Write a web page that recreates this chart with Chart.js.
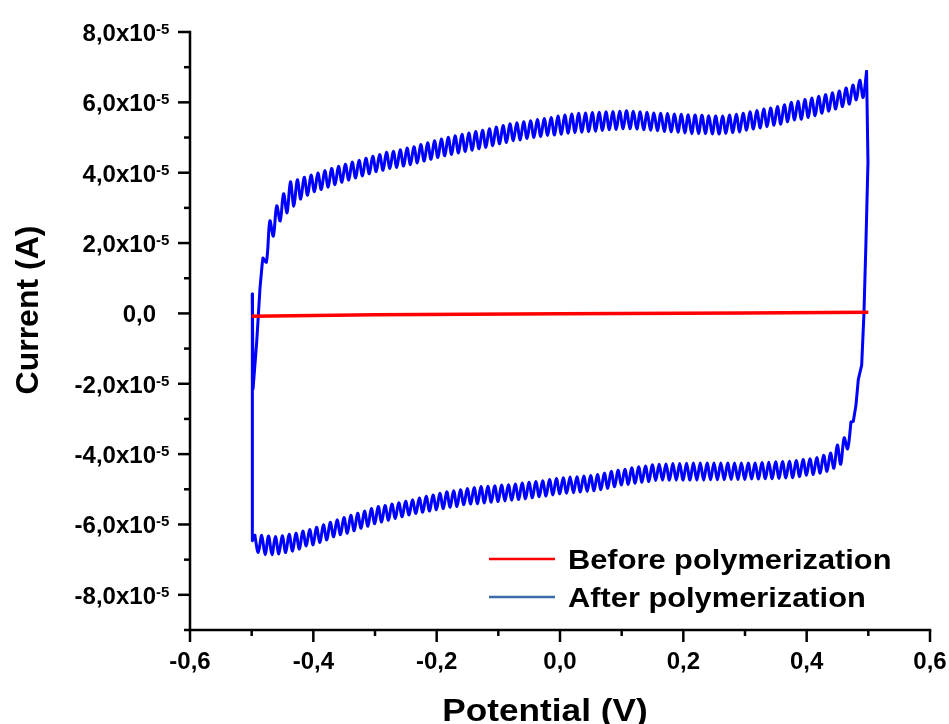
<!DOCTYPE html>
<html>
<head>
<meta charset="utf-8">
<script src="https://cdn.jsdelivr.net/npm/chart.js@4.4.1/dist/chart.umd.min.js"></script>
<style>
  html, body { margin: 0; padding: 0; background: #fff; }
  canvas { display: block; }
</style>
</head>
<body>
<canvas id="cvChart" width="949" height="724"></canvas>
<script>
// potentials in V, currents in units of 1e-5 A

// before polymerization (flat red trace)
const beforePotential = [-0.5, -0.3, 0.0, 0.3, 0.5];
const beforeCurrent = [-0.08, -0.04, -0.01, 0.01, 0.03];

// after polymerization: start of forward scan at -0.5 V
const afterStartPotential = [-0.4989, -0.4978, -0.4918, -0.4865, -0.4827];
const afterStartCurrent = [0.55, -2.15, -0.8, 0.72, 1.45];

// forward scan (anodic, upper branch), sampled every half ripple
const afterFwdStart = -0.4816;
const afterFwdStep = 0.005561;
const afterFwdCurrent = [
  1.57, 1.46, 2.63, 2.2, 3.06, 2.63, 3.40, 2.86, 3.74, 3.05,
  3.80, 3.25, 3.87, 3.36, 3.93, 3.46, 3.99, 3.52, 4.06, 3.59,
  4.12, 3.66, 4.18, 3.73, 4.24, 3.79, 4.30, 3.85, 4.35, 3.91,
  4.41, 3.97, 4.47, 4.03, 4.52, 4.07, 4.58, 4.12, 4.61, 4.15,
  4.65, 4.19, 4.70, 4.23, 4.74, 4.28, 4.80, 4.33, 4.85, 4.38,
  4.91, 4.43, 4.96, 4.48, 5.01, 4.52, 5.05, 4.56, 5.09, 4.60,
  5.13, 4.64, 5.17, 4.68, 5.21, 4.72, 5.25, 4.77, 5.30, 4.82,
  5.34, 4.86, 5.39, 4.91, 5.42, 4.93, 5.45, 4.97, 5.48, 5.00,
  5.51, 5.03, 5.54, 5.06, 5.57, 5.07, 5.61, 5.09, 5.64, 5.12,
  5.67, 5.14, 5.69, 5.15, 5.70, 5.17, 5.71, 5.18, 5.72, 5.20,
  5.73, 5.22, 5.74, 5.23, 5.75, 5.25, 5.76, 5.25, 5.75, 5.24,
  5.73, 5.22, 5.72, 5.21, 5.70, 5.19, 5.69, 5.17, 5.68, 5.16,
  5.67, 5.15, 5.66, 5.13, 5.65, 5.11, 5.64, 5.11, 5.63, 5.11,
  5.62, 5.10, 5.61, 5.10, 5.61, 5.12, 5.64, 5.14, 5.66, 5.16,
  5.69, 5.21, 5.73, 5.24, 5.77, 5.27, 5.81, 5.31, 5.84, 5.35,
  5.88, 5.38, 5.93, 5.45, 6.00, 5.50, 6.03, 5.52, 6.08, 5.57,
  6.12, 5.62, 6.17, 5.69, 6.22, 5.75, 6.27, 5.81, 6.32, 5.88,
  6.41, 5.95, 6.49, 6.07, 6.63, 6.14, 6.88
];

// switching at +0.5 V
const afterTurnPotential = [0.4994, 0.4962, 0.4929, 0.4892, 0.4837, 0.4800, 0.4756];
const afterTurnCurrent = [4.3, 2.06, 0.0, -1.47, -1.88, -2.6, -3.07];

// reverse scan (cathodic, lower branch), going back towards -0.5 V
const afterRevStart = 0.4719;
const afterRevStep = -0.005556;
const afterRevCurrent = [
  -3.09, -3.85, -3.54, -4.29, -3.74, -4.40, -3.97, -4.49, -4.03, -4.54,
  -4.10, -4.58, -4.13, -4.60, -4.15, -4.64, -4.18, -4.67, -4.20, -4.68,
  -4.21, -4.69, -4.22, -4.70, -4.23, -4.70, -4.24, -4.71, -4.25, -4.71,
  -4.25, -4.72, -4.25, -4.72, -4.25, -4.72, -4.25, -4.73, -4.25, -4.73,
  -4.25, -4.73, -4.25, -4.74, -4.25, -4.74, -4.25, -4.74, -4.26, -4.74,
  -4.27, -4.74, -4.27, -4.74, -4.28, -4.74, -4.29, -4.75, -4.30, -4.78,
  -4.34, -4.80, -4.36, -4.83, -4.39, -4.86, -4.43, -4.88, -4.46, -4.93,
  -4.49, -4.97, -4.54, -5.01, -4.58, -5.04, -4.61, -5.06, -4.62, -5.08,
  -4.64, -5.10, -4.65, -5.11, -4.67, -5.13, -4.69, -5.16, -4.72, -5.19,
  -4.76, -5.21, -4.78, -5.24, -4.80, -5.27, -4.82, -5.29, -4.85, -5.31,
  -4.87, -5.33, -4.88, -5.35, -4.90, -5.37, -4.91, -5.39, -4.92, -5.41,
  -4.95, -5.42, -4.98, -5.44, -5.01, -5.49, -5.04, -5.51, -5.07, -5.55,
  -5.11, -5.58, -5.16, -5.62, -5.20, -5.65, -5.25, -5.69, -5.30, -5.73,
  -5.34, -5.78, -5.38, -5.83, -5.42, -5.88, -5.46, -5.93, -5.49, -5.98,
  -5.55, -6.05, -5.62, -6.11, -5.68, -6.18, -5.74, -6.25, -5.80, -6.29,
  -5.87, -6.35, -5.94, -6.44, -6.01, -6.51, -6.08, -6.58, -6.14, -6.61,
  -6.19, -6.70, -6.25, -6.76, -6.28, -6.80, -6.32, -6.84, -6.34, -6.86,
  -6.33, -6.86, -6.31, -6.80, -6.31
];

// back at -0.5 V, closing the loop
const afterEndPotential = [-0.4989, -0.4989];
const afterEndCurrent = [-6.46, 0.55];

// axis ticks
const xTickValues = [-0.6, -0.4, -0.2, 0.0, 0.2, 0.4, 0.6];
const xTickLabels = ["-0,6", "-0,4", "-0,2", "0,0", "0,2", "0,4", "0,6"];
const xMinorValues = [-0.5, -0.3, -0.1, 0.1, 0.3, 0.5];
const yTickValues = [8, 6, 4, 2, 0, -2, -4, -6, -8];
const yTickLabels = ["8,0x10", "6,0x10", "4,0x10", "2,0x10", "0,0", "-2,0x10", "-4,0x10", "-6,0x10", "-8,0x10"];
const yTickExp = ["-5", "-5", "-5", "-5", "", "-5", "-5", "-5", "-5"];
const yMinorValues = [7, 5, 3, 1, -1, -3, -5, -7, -9];

const legendLabels = ["Before polymerization", "After polymerization"];
const legendColors = ["#ff0000", "#3a6ba8"];

const FONT = '"Liberation Sans", Arial, sans-serif';

function pairs(xs, ys) {
  return xs.map((x, i) => ({ x: x, y: ys[i] }));
}

function sweep(start, step, ys) {
  return ys.map((y, i) => ({ x: start + i * step, y: y }));
}

const fwdPoints = sweep(afterFwdStart, afterFwdStep, afterFwdCurrent);
const revPoints = sweep(afterRevStart, afterRevStep, afterRevCurrent);

const startPoints = pairs(afterStartPotential, afterStartCurrent).concat([fwdPoints[0]]);
const turnPoints = [fwdPoints[fwdPoints.length - 1]]
  .concat(pairs(afterTurnPotential, afterTurnCurrent))
  .concat([revPoints[0]]);
const endPoints = [revPoints[revPoints.length - 1]].concat(pairs(afterEndPotential, afterEndCurrent));

const BLUE = "#0000ff";

function blueSet(data, tension) {
  return {
    label: "After polymerization",
    data: data,
    showLine: true,
    borderColor: BLUE,
    backgroundColor: BLUE,
    borderWidth: 3,
    pointRadius: 0,
    tension: tension,
    borderJoinStyle: "round",
    borderCapStyle: "round",
  };
}

const originAxes = {
  id: "originAxes",
  afterDraw(chart) {
    const ctx = chart.ctx;
    const area = chart.chartArea;
    const xs = chart.scales.x;
    const ys = chart.scales.y;

    ctx.save();
    ctx.strokeStyle = "#000";
    ctx.fillStyle = "#000";
    ctx.lineWidth = 2.5;

    const seg = (x1, y1, x2, y2) => {
      ctx.beginPath();
      ctx.moveTo(x1, y1);
      ctx.lineTo(x2, y2);
      ctx.stroke();
    };

    // axis lines
    ctx.lineCap = "square";
    seg(area.left, area.top, area.left, area.bottom);
    seg(area.left, area.bottom, area.right, area.bottom);
    ctx.lineCap = "butt";

    // y ticks
    yTickValues.forEach((v) => {
      const y = ys.getPixelForValue(v);
      seg(area.left - 12, y, area.left, y);
    });
    yMinorValues.forEach((v) => {
      const y = ys.getPixelForValue(v);
      seg(area.left - 6, y, area.left, y);
    });

    // x ticks
    xTickValues.forEach((v) => {
      const x = xs.getPixelForValue(v);
      seg(x, area.bottom, x, area.bottom + 12);
    });
    xMinorValues.forEach((v) => {
      const x = xs.getPixelForValue(v);
      seg(x, area.bottom, x, area.bottom + 6);
    });

    // y tick labels with superscript exponent
    ctx.textBaseline = "alphabetic";
    yTickValues.forEach((v, i) => {
      const y = ys.getPixelForValue(v);
      ctx.font = "bold 24px " + FONT;
      ctx.textAlign = "right";
      ctx.fillText(yTickLabels[i], area.left - 34, y + 9);
      if (yTickExp[i]) {
        ctx.font = "bold 15px " + FONT;
        ctx.textAlign = "left";
        ctx.fillText(yTickExp[i], area.left - 34, y + 2);
      }
    });

    // x tick labels
    ctx.font = "bold 24px " + FONT;
    ctx.textAlign = "center";
    xTickValues.forEach((v, i) => {
      const x = xs.getPixelForValue(v);
      ctx.fillText(xTickLabels[i], x, area.bottom + 39);
    });

    // axis titles
    ctx.font = "bold 32px " + FONT;
    ctx.save();
    ctx.translate(545, area.bottom + 91);
    ctx.scale(1.1, 1);
    ctx.textAlign = "center";
    ctx.fillText("Potential (V)", 0, 0);
    ctx.restore();

    ctx.save();
    ctx.translate(38, 310);
    ctx.rotate(-Math.PI / 2);
    ctx.textAlign = "center";
    ctx.fillText("Current (A)", 0, 0);
    ctx.restore();

    // legend inside the plot, lower right
    ctx.font = "bold 28px " + FONT;
    ctx.textAlign = "left";
    legendLabels.forEach((label, i) => {
      const y = ys.getPixelForValue(-6.98) + i * 38;
      ctx.strokeStyle = legendColors[i];
      ctx.lineWidth = 2.5;
      seg(489, y, 555, y);
      ctx.save();
      ctx.translate(568, y + 10);
      ctx.scale(1.1, 1);
      ctx.fillText(label, 0, 0);
      ctx.restore();
    });

    ctx.restore();
  },
};

document.addEventListener("DOMContentLoaded", function () {
  const ctx = document.getElementById("cvChart").getContext("2d");

  new Chart(ctx, {
    type: "scatter",
    data: {
      datasets: [
        {
          label: "Before polymerization",
          data: pairs(beforePotential, beforeCurrent),
          showLine: true,
          borderColor: "#ff0000",
          backgroundColor: "#ff0000",
          borderWidth: 3.5,
          pointRadius: 0,
          tension: 0,
        },
        blueSet(startPoints, 0),
        blueSet(fwdPoints, 0.35),
        blueSet(turnPoints, 0),
        blueSet(revPoints, 0.35),
        blueSet(endPoints, 0),
      ],
    },
    options: {
      responsive: false,
      animation: false,
      layout: {
        padding: { left: 190, right: 19, top: 32, bottom: 94 },
      },
      scales: {
        x: { type: "linear", min: -0.6, max: 0.6, display: false },
        y: { type: "linear", min: -9, max: 8, display: false },
      },
      plugins: {
        legend: { display: false },
        tooltip: { enabled: false },
      },
    },
    plugins: [originAxes],
  });
});
</script>
</body>
</html>
